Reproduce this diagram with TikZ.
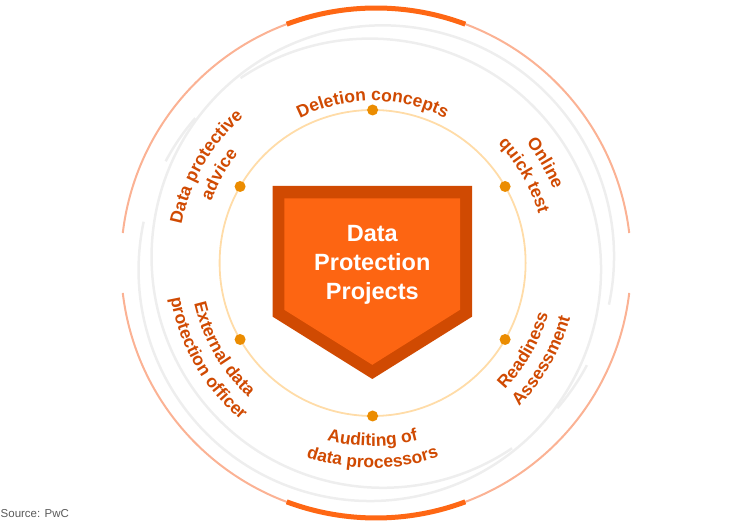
\documentclass[tikz,border=0pt]{standalone}
\usepackage{fontspec}
\setmainfont{Liberation Sans}
\usetikzlibrary{decorations.text}
\definecolor{lab}{RGB}{208,74,2}
\definecolor{shieldDark}{RGB}{208,74,2}
\definecolor{shieldFill}{RGB}{253,101,18}
\definecolor{thickor}{RGB}{254,103,20}
\definecolor{salmon}{RGB}{251,178,148}
\definecolor{grayring}{RGB}{238,238,238}
\definecolor{peach}{RGB}{255,220,168}
\definecolor{dotc}{RGB}{235,140,0}
\definecolor{srcgray}{RGB}{90,90,90}
\newcommand\lbl{\bfseries\fontsize{17.5}{20}\selectfont\color{lab}}
\begin{document}
\begin{tikzpicture}[x=1pt,y=1pt,
  salmonring/.style={draw=salmon,line width=2pt},
  thickarc/.style={draw=thickor,line width=5pt},
  grayarc/.style={draw=grayring,line width=2.5pt},
  dotnode/.style={circle,fill=dotc,inner sep=0pt,minimum size=11pt},
  titletext/.style={anchor=base,text=white,inner sep=0pt,font=\bfseries\fontsize{23.5}{29}\selectfont},
  lblpath/.style={decorate,decoration={text along path,text align=center,text={#1}}}]
\useasboundingbox (0,0) rectangle (752,527);
\coordinate (C) at (376,264);
\coordinate (D) at (372.6,264);
\coordinate (G1) at (382.8,270.4);
\coordinate (G2) at (369.8,257.2);
% outer salmon ring
\draw[salmonring] ([shift={(6.75:255)}]C) arc[start angle=6.75,end angle=173.25,radius=255];
\draw[salmonring] ([shift={(186.75:255)}]C) arc[start angle=186.75,end angle=353.25,radius=255];
\draw[thickarc] ([shift={(69.5:255)}]C) arc[start angle=69.5,end angle=110.5,radius=255];
\draw[thickarc] ([shift={(249.5:255)}]C) arc[start angle=249.5,end angle=290.5,radius=255];
% gray arcs
\draw[grayarc] ([shift={(-12:231.2)}]G1) arc[start angle=-12,end angle=304,radius=231.2];
\draw[grayarc] ([shift={(319:231.2)}]G1) arc[start angle=319,end angle=332,radius=231.2];
\draw[grayarc] ([shift={(168:231.2)}]G2) arc[start angle=168,end angle=484,radius=231.2];
\draw[grayarc] ([shift={(139:231.2)}]G2) arc[start angle=139,end angle=152,radius=231.2];
% inner ring
\draw[draw=peach,line width=1.8pt] (D) circle[radius=153];
% shield
\fill[shieldDark] (272.7,341) -- (472,341) -- (472,210.3) -- (372.3,148) -- (272.7,210.3) -- cycle;
\fill[shieldFill] (284.3,328.7) -- (460,328.7) -- (460,217.2) -- (372.3,162.2) -- (284.3,217.2) -- cycle;
\node[titletext] (t1) at (372.3,285.3) {Data};
\node[titletext] (t2) at (372.3,256.3) {Protection};
\node[titletext] (t3) at (372.3,227.3) {Projects};
% dots
\foreach \a/\n in {30/d1,90/d2,150/d3,210/d4,270/d5,330/d6}
  \node[dotnode] (\n) at ([shift={(\a:153)}]D) {};
% labels, clockwise (tops outward)
\path[lblpath={|\lbl|Deletion concepts}] ([shift={(150:162)}]D) arc[start angle=150,end angle=30,radius=162];
\path[lblpath={|\lbl|Online}] ([shift={(90:195)}]D) arc[start angle=90,end angle=-30,radius=195];
\path[lblpath={|\lbl|quick test}] ([shift={(90:173)}]D) arc[start angle=90,end angle=-30,radius=173];
\path[lblpath={|\lbl|Data protective}] ([shift={(210:195)}]D) arc[start angle=210,end angle=90,radius=195];
\path[lblpath={|\lbl|advice}] ([shift={(210:173)}]D) arc[start angle=210,end angle=90,radius=173];
% labels, counterclockwise (tops inward)
\path[lblpath={|\lbl|External data}] ([shift={(150:183)}]D) arc[start angle=150,end angle=270,radius=183];
\path[lblpath={|\lbl|protection officer}] ([shift={(150:205)}]D) arc[start angle=150,end angle=270,radius=205];
\path[lblpath={|\lbl|Auditing of}] ([shift={(210:183)}]D) arc[start angle=210,end angle=330,radius=183];
\path[lblpath={|\lbl|data processors}] ([shift={(210:205)}]D) arc[start angle=210,end angle=330,radius=205];
\path[lblpath={|\lbl|Readiness}] ([shift={(270:183)}]D) arc[start angle=270,end angle=390,radius=183];
\path[lblpath={|\lbl|Assessment}] ([shift={(270:205)}]D) arc[start angle=270,end angle=390,radius=205];
% source
\node[anchor=base west,inner sep=0pt,text=srcgray,font=\fontsize{11.5}{13}\selectfont] (src) at (0.5,9) {Source: PwC};
\end{tikzpicture}
\end{document}
